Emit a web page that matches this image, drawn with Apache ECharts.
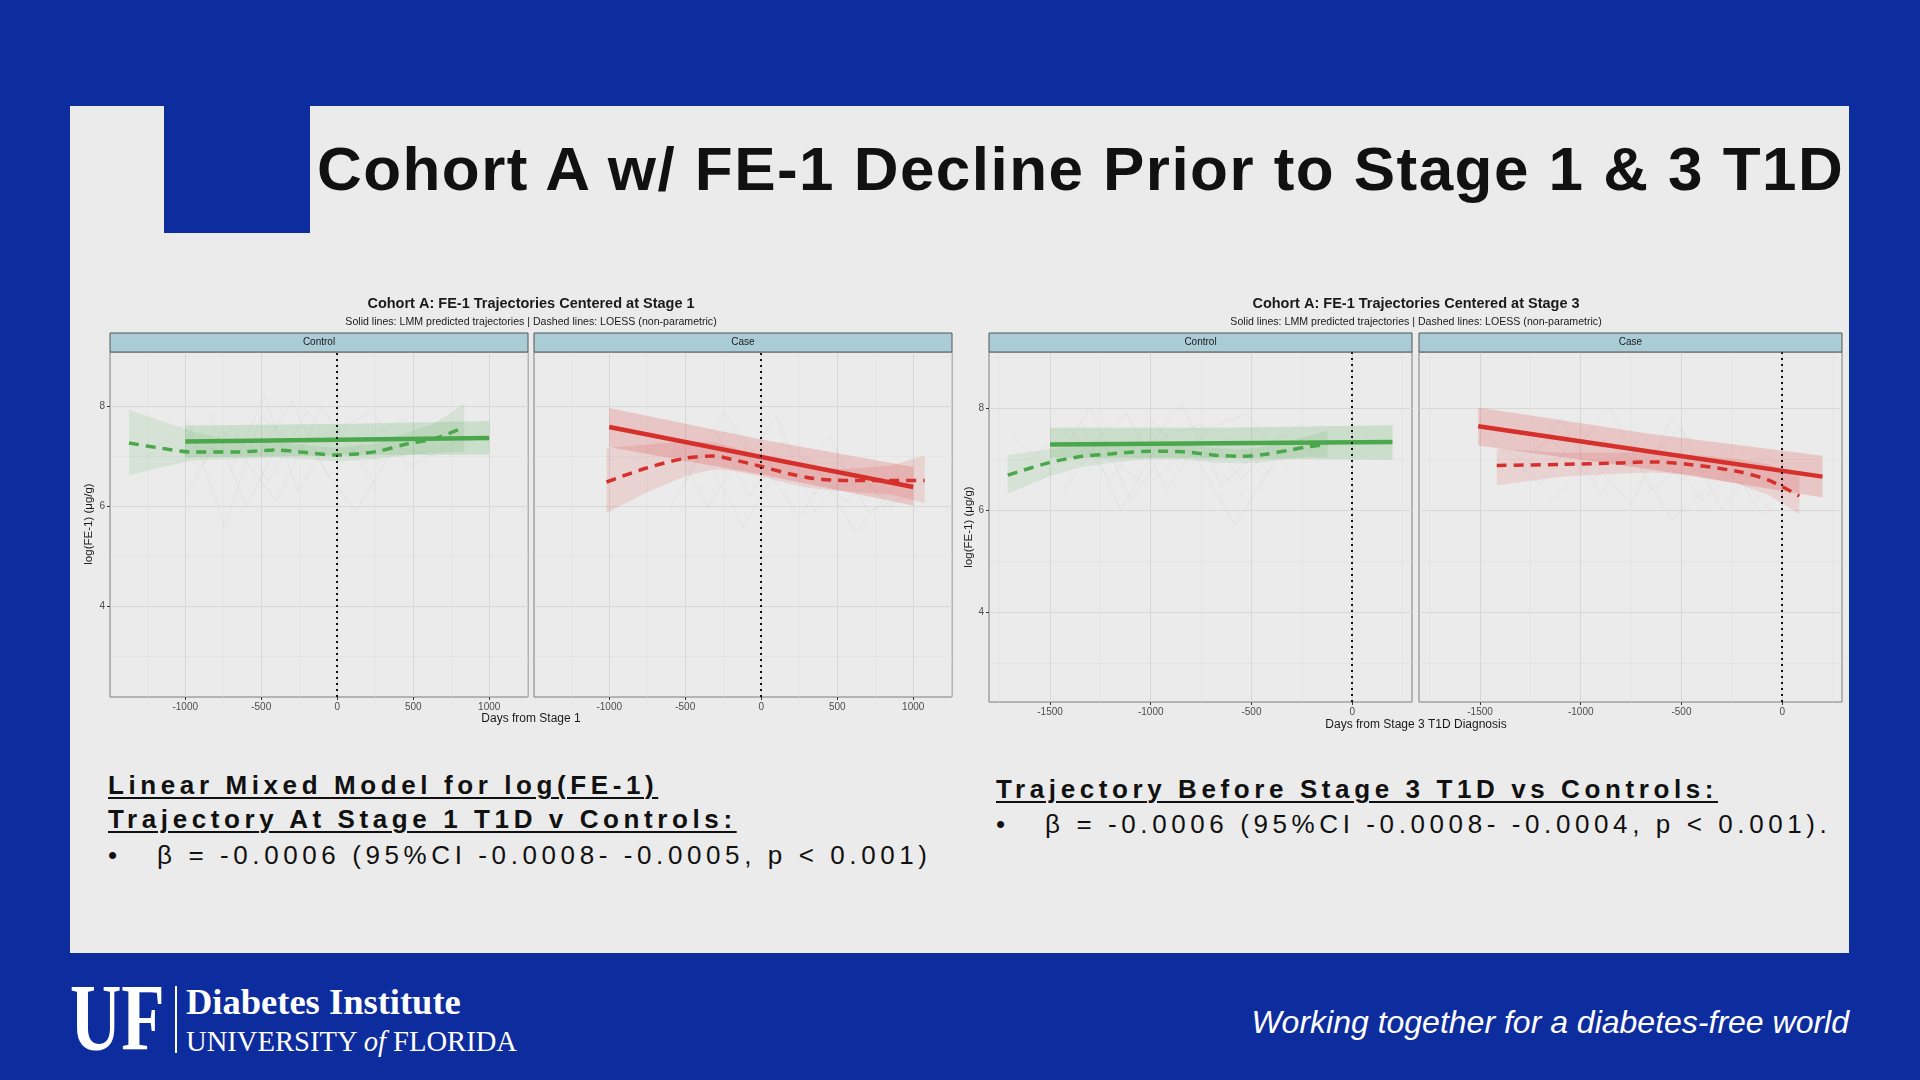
<!DOCTYPE html>
<html lang="en">
<head>
<meta charset="UTF-8">
<title>Cohort A w/ FE-1 Decline Prior to Stage 1 &amp; 3 T1D</title>
<script src="https://cdn.jsdelivr.net/npm/echarts@6.0.0/dist/echarts.min.js"></script>
<style>
    html, body { margin: 0; padding: 0; }
    body { width: 1920px; height: 1080px; background: #0d2c9e; position: relative; overflow: hidden;
           font-family: "Liberation Sans", Arial, sans-serif; }
    .slide { position: absolute; left: 70px; top: 106px; width: 1779px; height: 847px; background: #ebebeb; }
    .corner { position: absolute; left: 164px; top: 106px; width: 146px; height: 127px; background: #0d2c9e; }
    .title { position: absolute; left: 317px; top: 138px; font-size: 62px; line-height: 62px; font-weight: bold;
             letter-spacing: 1.45px; color: #111; white-space: nowrap; }
    .note { position: absolute; font-size: 26px; line-height: 26px; letter-spacing: 4.6px; color: #111; white-space: nowrap; }
    .note.b { font-weight: bold; text-decoration: underline; text-decoration-thickness: 2px; text-underline-offset: 3px; }
    .uf { position: absolute; left: 70px; top: 970px; font-family: "Liberation Serif", serif; font-weight: bold;
          font-size: 96px; line-height: 96px; color: #fff; transform: scaleX(0.74); transform-origin: left top; }
    .ufbar { position: absolute; left: 175px; top: 986px; width: 2px; height: 67px; background: #fff; }
    .di { position: absolute; left: 186px; top: 984px; font-family: "Liberation Serif", serif; font-weight: bold;
          font-size: 36.5px; line-height: 36px; color: #fff; white-space: nowrap; }
    .uni { position: absolute; left: 186px; top: 1028px; font-family: "Liberation Serif", serif;
           font-size: 28.6px; line-height: 28px; color: #fff; white-space: nowrap; }
    .motto { position: absolute; right: 71px; top: 1007px; font-style: italic; font-size: 32px; line-height: 31px;
             color: #fff; white-space: nowrap; }
    #main { position: absolute; left: 0; top: 0; width: 1920px; height: 1080px; z-index: 2; }
</style>
</head>
<body>
<div class="slide"></div>
<div class="corner"></div>
<div class="title">Cohort A w/ FE-1 Decline Prior to Stage 1 &amp; 3 T1D</div>

<div class="note b" style="left:108px;top:772px;">Linear Mixed Model for log(FE-1)</div>
<div class="note b" style="left:108px;top:806px;">Trajectory At Stage 1 T1D v Controls:</div>
<div class="note" style="left:108px;top:842px;">•</div>
<div class="note" style="left:157px;top:842px;">β = -0.0006 (95%CI -0.0008- -0.0005, p &lt; 0.001)</div>

<div class="note b" style="left:996px;top:776px;">Trajectory Before Stage 3 T1D vs Controls:</div>
<div class="note" style="left:996px;top:811px;">•</div>
<div class="note" style="left:1045px;top:811px;">β = -0.0006 (95%CI -0.0008- -0.0004, p &lt; 0.001).</div>

<div class="uf">UF</div>
<div class="ufbar"></div>
<div class="di">Diabetes Institute</div>
<div class="uni">UNIVERSITY <i>of</i> FLORIDA</div>
<div class="motto">Working together for a diabetes-free world</div>

<!-- charts drawn on top of the slide -->
<div id="main"></div>
<script>
    var FONT = '"Liberation Sans", Arial, sans-serif';
    var GREEN = '#4aa74b';
    var RED = '#d5302c';

    // tick values
    var s1Ticks = [-1000, -500, 0, 500, 1000];
    var s1Minor = [-1250, -750, -250, 250, 750, 1250];
    var s3Ticks = [-1500, -1000, -500, 0];
    var s3Minor = [-1750, -1250, -750, -250, 250];
    var yTicks = [4, 6, 8];
    var yMinor = [3, 5, 7, 9];

    var s1Title = 'Cohort A: FE-1 Trajectories Centered at Stage 1';
    var s3Title = 'Cohort A: FE-1 Trajectories Centered at Stage 3';
    var subTitle = 'Solid lines: LMM predicted trajectories | Dashed lines: LOESS (non-parametric)';
    var s1XName = 'Days from Stage 1';
    var s3XName = 'Days from Stage 3 T1D Diagnosis';
    var yName = 'log(FE-1) (μg/g)';

    // ---- Stage 1, Control ----
    var s1CtlLmmX = [-1000, 0, 1000];
    var s1CtlLmmY = [7.30, 7.335, 7.37];
    var s1CtlLmmLo = [6.98, 7.02, 7.04];
    var s1CtlLmmHi = [7.62, 7.65, 7.71];
    var s1CtlLoessX = [-1370, -1166, -950, -662, -399, -245, 0, 259, 457, 632, 835];
    var s1CtlLoessY = [7.27, 7.17, 7.09, 7.09, 7.13, 7.09, 7.03, 7.10, 7.25, 7.35, 7.58];
    var s1CtlLoessLo = [6.62, 6.78, 6.92, 6.95, 6.98, 6.95, 6.90, 6.95, 7.03, 7.07, 7.10];
    var s1CtlLoessHi = [7.93, 7.72, 7.50, 7.30, 7.28, 7.24, 7.17, 7.26, 7.47, 7.65, 8.05];

    // ---- Stage 1, Case ----
    var s1CaseLmmX = [-1000, 0, 1000];
    var s1CaseLmmY = [7.59, 6.99, 6.39];
    var s1CaseLmmLo = [7.19, 6.64, 6.02];
    var s1CaseLmmHi = [7.97, 7.34, 6.79];
    var s1CaseLoessX = [-1018, -754, -490, -315, -204, 0, 191, 345, 565, 851, 1075];
    var s1CaseLoessY = [6.49, 6.77, 6.97, 7.01, 6.95, 6.80, 6.65, 6.56, 6.52, 6.52, 6.52];
    var s1CaseLoessLo = [5.87, 6.28, 6.62, 6.74, 6.72, 6.60, 6.45, 6.36, 6.30, 6.24, 6.07];
    var s1CaseLoessHi = [7.17, 7.24, 7.30, 7.28, 7.20, 7.01, 6.86, 6.77, 6.75, 6.82, 7.02];

    // ---- Stage 3, Control ----
    var s3CtlLmmX = [-1500, -650, 200];
    var s3CtlLmmY = [7.29, 7.315, 7.34];
    var s3CtlLmmLo = [7.03, 7.02, 6.99];
    var s3CtlLmmHi = [7.62, 7.62, 7.67];
    var s3CtlLoessX = [-1710, -1509, -1356, -1191, -1008, -843, -677, -545, -429, -313, -214, -123];
    var s3CtlLoessY = [6.69, 6.93, 7.05, 7.11, 7.16, 7.15, 7.08, 7.06, 7.10, 7.18, 7.25, 7.29];
    var s3CtlLoessLo = [6.33, 6.66, 6.84, 6.94, 7.00, 7.00, 6.94, 6.92, 6.95, 7.01, 7.05, 7.04];
    var s3CtlLoessHi = [7.08, 7.20, 7.26, 7.28, 7.32, 7.30, 7.22, 7.20, 7.25, 7.36, 7.46, 7.56];

    // ---- Stage 3, Case ----
    var s3CaseLmmX = [-1509, -650, 200];
    var s3CaseLmmY = [7.65, 7.15, 6.66];
    var s3CaseLmmLo = [7.27, 6.80, 6.25];
    var s3CaseLmmHi = [8.02, 7.50, 7.07];
    var s3CaseLoessX = [-1417, -1100, -800, -645, -462, -219, -67, 85];
    var s3CaseLoessY = [6.88, 6.90, 6.93, 6.95, 6.90, 6.76, 6.59, 6.28];
    var s3CaseLoessLo = [6.49, 6.66, 6.72, 6.74, 6.70, 6.52, 6.30, 5.92];
    var s3CaseLoessHi = [7.21, 7.13, 7.13, 7.15, 7.10, 7.00, 6.90, 6.70];

    // a few of the faint individual trajectories (rough reads)
    var s1CtlSubjects = [
        [[-1150, 7.4], [-900, 6.8], [-700, 7.6], [-450, 6.5], [-200, 7.9], [50, 7.1], [300, 6.9]],
        [[-1000, 6.2], [-760, 7.5], [-520, 7.0], [-300, 8.1], [-60, 6.6], [200, 7.4], [500, 7.8]],
        [[-850, 7.9], [-600, 6.0], [-380, 7.3], [-140, 7.0], [120, 5.9], [380, 7.2], [650, 7.0]],
        [[-1250, 7.0], [-980, 7.7], [-740, 5.6], [-500, 7.8], [-250, 7.2], [0, 7.6], [260, 6.4]],
        [[-700, 6.7], [-480, 8.2], [-260, 6.3], [-20, 7.5], [230, 7.9], [470, 6.8], [780, 7.3]],
        [[-950, 7.2], [-650, 7.1], [-400, 6.1], [-100, 8.0], [150, 6.8], [420, 7.5]]
    ];
    var s1CaseSubjects = [
        [[-700, 7.3], [-450, 6.8], [-200, 7.6], [50, 6.4], [300, 7.0], [550, 6.1], [800, 6.6]],
        [[-500, 6.5], [-250, 7.9], [0, 6.9], [250, 5.8], [500, 6.9], [750, 6.3], [1000, 6.8]],
        [[-300, 7.5], [-80, 6.2], [150, 7.3], [400, 6.6], [620, 5.5], [880, 6.4]],
        [[-850, 6.9], [-600, 7.4], [-350, 6.0], [-100, 7.2], [180, 6.5], [450, 7.4], [700, 5.9], [950, 6.2]],
        [[-150, 6.7], [100, 7.8], [350, 5.9], [600, 6.8], [850, 6.0], [1080, 6.5]],
        [[-600, 6.0], [-380, 7.1], [-120, 5.6], [130, 6.9], [380, 6.2], [640, 6.9]]
    ];
    var s3CtlSubjects = [
        [[-1600, 7.0], [-1400, 7.6], [-1200, 6.6], [-1000, 7.8], [-800, 6.9], [-600, 7.4], [-400, 6.7]],
        [[-1450, 6.3], [-1250, 7.4], [-1050, 7.0], [-850, 8.1], [-650, 6.5], [-450, 7.2], [-250, 7.7]],
        [[-1700, 7.5], [-1500, 6.8], [-1300, 8.0], [-1100, 6.2], [-900, 7.3], [-700, 7.0], [-500, 6.1]],
        [[-1350, 7.8], [-1150, 6.0], [-950, 7.4], [-750, 7.7], [-550, 6.6], [-350, 7.5], [-150, 7.0]],
        [[-1550, 6.6], [-1330, 7.2], [-1120, 7.9], [-920, 6.4], [-720, 7.6], [-520, 7.9], [-320, 6.8]],
        [[-1250, 7.1], [-1020, 6.5], [-800, 7.2], [-580, 5.7], [-380, 7.0], [-200, 7.4]]
    ];
    var s3CaseSubjects = [
        [[-1400, 7.2], [-1200, 6.5], [-1000, 7.6], [-800, 6.8], [-600, 7.3], [-400, 6.2], [-200, 6.9], [0, 6.3]],
        [[-1300, 6.7], [-1100, 7.8], [-900, 6.3], [-700, 7.5], [-500, 6.6], [-300, 7.2], [-100, 5.9]],
        [[-1500, 7.5], [-1250, 6.9], [-1050, 7.1], [-850, 8.0], [-650, 6.4], [-450, 7.0], [-250, 6.7], [-50, 6.6]],
        [[-1150, 6.2], [-950, 7.0], [-750, 6.1], [-550, 7.8], [-350, 6.9], [-150, 6.4], [30, 5.6]],
        [[-900, 7.4], [-700, 6.9], [-500, 7.6], [-300, 6.0], [-100, 7.1], [50, 6.8]],
        [[-1350, 6.9], [-1150, 7.4], [-950, 6.6], [-750, 7.2], [-550, 5.8], [-350, 6.5], [-150, 7.3]]
    ];

    // facet panels: box = [left, top, width, height] in px
    var panels = [
        {strip: 'Control', box: [110, 352, 418, 345], xr: [-1495, 1255], yr: [2.19, 9.09], ticks: s1Ticks, minor: s1Minor,
         color: GREEN, showY: true, subj: s1CtlSubjects,
         lmm: [s1CtlLmmX, s1CtlLmmY, s1CtlLmmLo, s1CtlLmmHi], loess: [s1CtlLoessX, s1CtlLoessY, s1CtlLoessLo, s1CtlLoessHi]},
        {strip: 'Case', box: [534, 352, 418, 345], xr: [-1495, 1255], yr: [2.19, 9.09], ticks: s1Ticks, minor: s1Minor,
         color: RED, showY: false, subj: s1CaseSubjects,
         lmm: [s1CaseLmmX, s1CaseLmmY, s1CaseLmmLo, s1CaseLmmHi], loess: [s1CaseLoessX, s1CaseLoessY, s1CaseLoessLo, s1CaseLoessHi]},
        {strip: 'Control', box: [989, 352, 423, 350], xr: [-1803, 297], yr: [2.23, 9.11], ticks: s3Ticks, minor: s3Minor,
         color: GREEN, showY: true, subj: s3CtlSubjects,
         lmm: [s3CtlLmmX, s3CtlLmmY, s3CtlLmmLo, s3CtlLmmHi], loess: [s3CtlLoessX, s3CtlLoessY, s3CtlLoessLo, s3CtlLoessHi]},
        {strip: 'Case', box: [1419, 352, 423, 350], xr: [-1803, 297], yr: [2.23, 9.11], ticks: s3Ticks, minor: s3Minor,
         color: RED, showY: false, subj: s3CaseSubjects,
         lmm: [s3CaseLmmX, s3CaseLmmY, s3CaseLmmLo, s3CaseLmmHi], loess: [s3CaseLoessX, s3CaseLoessY, s3CaseLoessLo, s3CaseLoessHi]}
    ];

    function pairs(xs, ys) {
        return xs.map(function (x, i) { return [x, ys[i]]; });
    }

    function rgba(hex, a) {
        var n = parseInt(hex.slice(1), 16);
        return 'rgba(' + (n >> 16) + ',' + ((n >> 8) & 255) + ',' + (n & 255) + ',' + a + ')';
    }

    // confidence band as one polygon, mapped through the axes
    function bandSeries(xi, yi, band, fill) {
        return {
            type: 'custom', xAxisIndex: xi, yAxisIndex: yi, silent: true, clip: true,
            data: band[0].map(function (x, i) { return [x, band[2][i], band[3][i]]; }),
            encode: {x: 0, y: [1, 2]},
            renderItem: function (params, api) {
                if (params.dataIndexInside !== 0) return null;
                var top = [], bot = [];
                for (var i = 0; i < params.dataInsideLength; i++) {
                    top.push(api.coord([api.value(0, i), api.value(2, i)]));
                    bot.unshift(api.coord([api.value(0, i), api.value(1, i)]));
                }
                return {type: 'polygon', shape: {points: top.concat(bot)}, style: {fill: fill}};
            }
        };
    }

    function label(text, x, y, size, weight, rot) {
        return {
            type: 'text', x: x, y: y, rotation: rot || 0, silent: true, z: 10,
            style: {text: text, fontFamily: FONT, fontSize: size, fontWeight: weight || 'normal', fill: '#1a1a1a',
                    align: 'center', verticalAlign: 'middle', textAlign: 'center', textVerticalAlign: 'middle'}
        };
    }

    function plainNum(v) { return String(v); }

    var myChart = echarts.init(document.getElementById('main'), null, {renderer: 'canvas'});

    var option = {
        animation: false,
        grid: [], xAxis: [], yAxis: [], series: [],
        graphic: {elements: [
            label(s1Title, 531, 304, 14.5, 'bold'),
            label(subTitle, 531, 322, 10.6),
            label(s3Title, 1416, 304, 14.5, 'bold'),
            label(subTitle, 1416, 322, 10.6),
            label(s1XName, 531, 719, 12),
            label(s3XName, 1416, 725, 12),
            label(yName, 89, 524, 11.5, 'normal', Math.PI / 2),
            label(yName, 969, 527, 11.5, 'normal', Math.PI / 2)
        ]}
    };

    panels.forEach(function (p, g) {
        var b = p.box;
        option.grid.push({left: b[0], top: b[1], width: b[2], height: b[3], show: true,
                          borderColor: '#7d7d7d', borderWidth: 1, backgroundColor: 'transparent',
                          containLabel: false, outerBoundsMode: 'none'});

        // minor grid lines
        option.xAxis.push({type: 'value', gridIndex: g, min: p.xr[0], max: p.xr[1], position: 'bottom',
            axisLine: {show: false, onZero: false}, axisLabel: {show: false},
            axisTick: {show: false, customValues: p.minor},
            splitLine: {show: true, lineStyle: {color: '#e0e0e0', width: 0.6}}});
        // major grid lines, ticks and labels
        option.xAxis.push({type: 'value', gridIndex: g, min: p.xr[0], max: p.xr[1], position: 'bottom',
            axisLine: {show: false, onZero: false},
            axisTick: {show: true, customValues: p.ticks, length: 3, lineStyle: {color: '#333', width: 1}},
            axisLabel: {customValues: p.ticks, formatter: plainNum, color: '#4d4d4d', fontSize: 10, fontFamily: FONT, margin: 5},
            splitLine: {show: true, lineStyle: {color: '#d7d7d7', width: 1}}});

        option.yAxis.push({type: 'value', gridIndex: g, min: p.yr[0], max: p.yr[1], position: 'left',
            axisLine: {show: false, onZero: false}, axisLabel: {show: false},
            axisTick: {show: false, customValues: yMinor},
            splitLine: {show: true, lineStyle: {color: '#e0e0e0', width: 0.6}}});
        option.yAxis.push({type: 'value', gridIndex: g, min: p.yr[0], max: p.yr[1], position: 'left',
            axisLine: {show: false, onZero: false},
            axisTick: {show: p.showY, customValues: yTicks, length: 3, lineStyle: {color: '#333', width: 1}},
            axisLabel: {show: p.showY, customValues: yTicks, formatter: plainNum, color: '#4d4d4d', fontSize: 10, fontFamily: FONT, margin: 5},
            splitLine: {show: true, lineStyle: {color: '#d7d7d7', width: 1}}});

        var xi = 2 * g + 1, yi = 2 * g + 1;

        option.series.push({
            type: 'lines', coordinateSystem: 'cartesian2d', xAxisIndex: xi, yAxisIndex: yi,
            polyline: true, silent: true,
            data: p.subj.map(function (c) { return {coords: c}; }),
            lineStyle: {color: '#9a9a9a', width: 0.5, opacity: 0.2}
        });
        option.series.push(bandSeries(xi, yi, p.loess, rgba(p.color, 0.13)));
        option.series.push(bandSeries(xi, yi, p.lmm, rgba(p.color, 0.2)));
        option.series.push({
            type: 'line', xAxisIndex: xi, yAxisIndex: yi, silent: true,
            data: pairs(p.loess[0], p.loess[1]), showSymbol: false, smooth: 0.3,
            lineStyle: {color: p.color, width: 3.5, type: [10, 7]}
        });
        option.series.push({
            type: 'line', xAxisIndex: xi, yAxisIndex: yi, silent: true,
            data: pairs(p.lmm[0], p.lmm[1]), showSymbol: false,
            lineStyle: {color: p.color, width: 4.5},
            markLine: {silent: true, symbol: ['none', 'none'], label: {show: false},
                       lineStyle: {color: '#111', width: 2, type: [2, 4]}, data: [{xAxis: 0}]}
        });

        // facet strip
        option.graphic.elements.push({
            type: 'rect', silent: true, z: 9,
            shape: {x: b[0], y: 333, width: b[2], height: 19},
            style: {fill: '#a9ccd6', stroke: '#555', lineWidth: 1}
        });
        option.graphic.elements.push(label(p.strip, b[0] + b[2] / 2, 342.5, 10));
    });

    myChart.setOption(option);
</script>
</body>
</html>
